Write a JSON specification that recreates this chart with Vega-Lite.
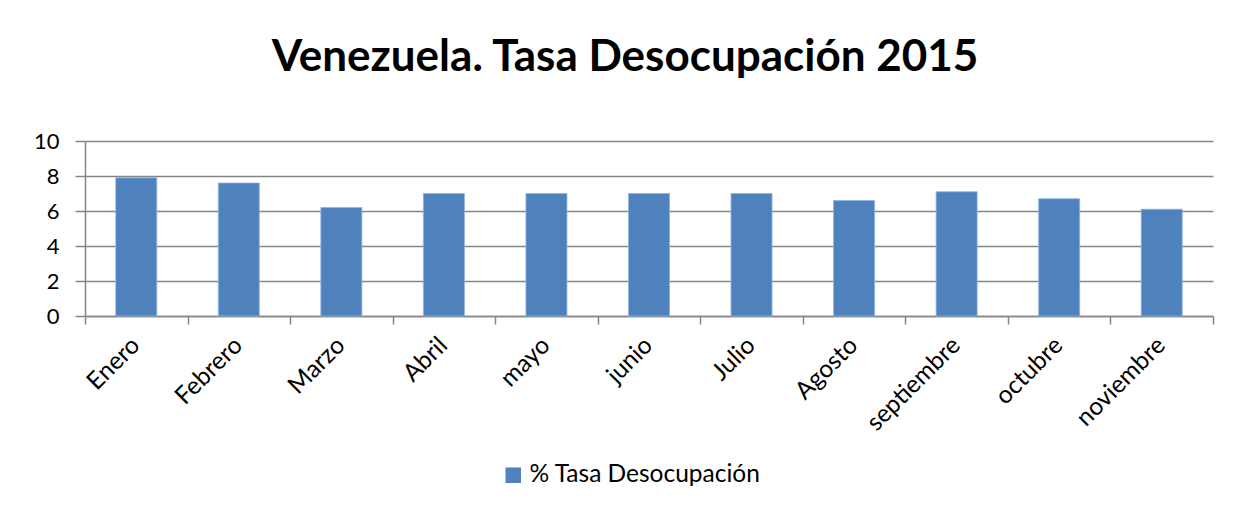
{
  "$schema": "https://vega.github.io/schema/vega-lite/v6.json",
  "width": 1128,
  "height": 175,
  "autosize": {"type": "none"},
  "padding": {"left": 85, "top": 141, "right": 30, "bottom": 197},
  "background": "white",
  "title": {
    "text": "Venezuela. Tasa Desocupación 2015",
    "font": "Lato",
    "fontSize": 44,
    "fontWeight": "bold",
    "color": "black",
    "anchor": "middle",
    "offset": 50,
    "dx": -24
  },
  "data": {
    "values": [
      {"mes": "Enero", "tasa": 7.9},
      {"mes": "Febrero", "tasa": 7.6},
      {"mes": "Marzo", "tasa": 6.2},
      {"mes": "Abril", "tasa": 7.0},
      {"mes": "mayo", "tasa": 7.0},
      {"mes": "junio", "tasa": 7.0},
      {"mes": "Julio", "tasa": 7.0},
      {"mes": "Agosto", "tasa": 6.6},
      {"mes": "septiembre", "tasa": 7.1},
      {"mes": "octubre", "tasa": 6.7},
      {"mes": "noviembre", "tasa": 6.1}
    ]
  },
  "mark": {"type": "bar", "width": {"band": 0.4}, "stroke": "#8EB4E3", "strokeWidth": 0.8},
  "encoding": {
    "x": {
      "field": "mes",
      "type": "nominal",
      "sort": null,
      "scale": {"paddingInner": 0, "paddingOuter": 0},
      "axis": {
        "title": null,
        "labelAngle": -45,
        "labelFont": "Lato",
        "labelFontSize": 24.5,
        "labelColor": "black",
        "labelPadding": 9,
        "labelOffset": -9,
        "tickBand": "extent",
        "tickSize": 8,
        "tickColor": "#868686",
        "tickWidth": 1.5,
        "domainColor": "#868686",
        "domainWidth": 1.5,
        "grid": false
      }
    },
    "y": {
      "field": "tasa",
      "type": "quantitative",
      "scale": {"domain": [0, 10], "nice": false},
      "axis": {
        "title": null,
        "values": [0, 2, 4, 6, 8, 10],
        "labelFont": "Lato",
        "labelFontSize": 22,
        "labelColor": "black",
        "labelPadding": 16,
        "tickSize": 10,
        "tickColor": "#868686",
        "tickWidth": 1.5,
        "domainColor": "#868686",
        "domainWidth": 1.5,
        "grid": true,
        "gridColor": "#868686",
        "gridWidth": 1.5
      }
    },
    "color": {
      "datum": "% Tasa Desocupación",
      "scale": {"range": ["#4F81BD"]},
      "legend": {
        "title": null,
        "orient": "none",
        "legendX": 416,
        "legendY": 322,
        "symbolType": "square",
        "symbolSize": 240,
        "symbolStrokeWidth": 0,
        "labelFont": "Lato",
        "labelFontSize": 24.5,
        "labelColor": "black",
        "labelOffset": 4,
        "labelLimit": 500
      }
    }
  },
  "config": {
    "view": {"stroke": null}
  }
}
